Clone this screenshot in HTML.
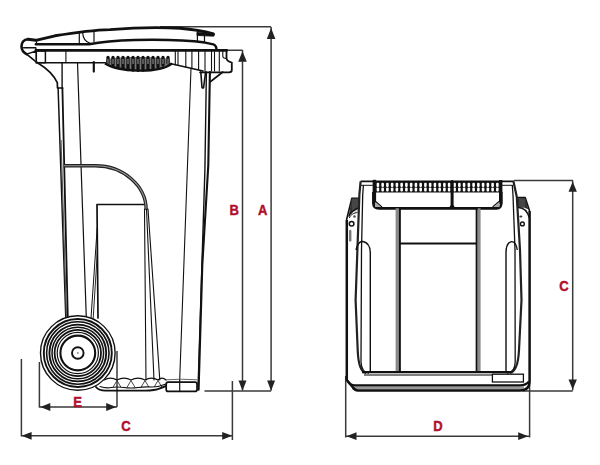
<!DOCTYPE html>
<html><head><meta charset="utf-8"><style>
html,body{margin:0;padding:0;background:#fff;width:600px;height:465px;overflow:hidden}
svg{display:block}
</style></head><body>
<svg width="600" height="465" viewBox="0 0 600 465">
<path d="M160 26.8 H271.1 M271.1 27 V390.5" stroke="#3a3a3a" stroke-width="1.5" fill="none"/>
<polygon points="271.1,28.0 266.8,39.0 275.4,39.0" fill="#222"/>
<polygon points="271.1,390.8 267.1,380.5 275.1,380.5" fill="#222"/>
<path d="M226 50.3 H242.5 M242.5 50 V390.5" stroke="#3a3a3a" stroke-width="1.5" fill="none"/>
<polygon points="242.5,51.3 238.2,61.8 246.8,61.8" fill="#222"/>
<polygon points="242.5,390.8 238.5,380.5 246.5,380.5" fill="#222"/>
<path d="M204.5 390.9 H271.1" stroke="#3a3a3a" stroke-width="1.5" fill="none"/>
<path d="M21.4 359 V435.8 H232 M232.4 381 V440" stroke="#3a3a3a" stroke-width="1.5" fill="none"/>
<polygon points="21.6,435.8 31.6,431.9 31.6,439.7" fill="#222"/>
<polygon points="232.2,435.8 222.2,431.9 222.2,439.7" fill="#222"/>
<path d="M39.4 362 V407 H117 M117 351 V407" stroke="#3a3a3a" stroke-width="1.5" fill="none"/>
<polygon points="40.3,407.0 50.3,403.1 50.3,410.9" fill="#222"/>
<polygon points="116.2,407.0 106.2,403.1 106.2,410.9" fill="#222"/>
<path d="M514 180.5 H573 M572.7 180.5 V390.3 M522.4 391 H572.7" stroke="#3a3a3a" stroke-width="1.5" fill="none"/>
<polygon points="572.7,181.7 568.5,191.7 576.9,191.7" fill="#222"/>
<polygon points="572.7,389.5 568.5,379.5 576.9,379.5" fill="#222"/>
<path d="M345.7 376 V437.5 M529.6 385 V437.5 M345.7 436.2 H529" stroke="#3a3a3a" stroke-width="1.5" fill="none"/>
<polygon points="346.5,436.2 356.5,432.3 356.5,440.1" fill="#222"/>
<polygon points="528.2,436.2 518.2,432.3 518.2,440.1" fill="#222"/>
<text transform="translate(262.6 215.2) scale(0.88 1.02)" font-family="Liberation Sans, sans-serif" font-weight="bold" font-size="14.8" fill="#b0102c" stroke="#b0102c" stroke-width="0.45" text-anchor="middle">A</text>
<text transform="translate(234.1 215.4) scale(0.88 1.02)" font-family="Liberation Sans, sans-serif" font-weight="bold" font-size="14.8" fill="#b0102c" stroke="#b0102c" stroke-width="0.45" text-anchor="middle">B</text>
<text transform="translate(126 430.8) scale(0.88 1.02)" font-family="Liberation Sans, sans-serif" font-weight="bold" font-size="14.8" fill="#b0102c" stroke="#b0102c" stroke-width="0.45" text-anchor="middle">C</text>
<text transform="translate(77.6 407.3) scale(0.88 1.02)" font-family="Liberation Sans, sans-serif" font-weight="bold" font-size="14.8" fill="#b0102c" stroke="#b0102c" stroke-width="0.45" text-anchor="middle">E</text>
<text transform="translate(437.9 431.2) scale(0.88 1.02)" font-family="Liberation Sans, sans-serif" font-weight="bold" font-size="14.8" fill="#b0102c" stroke="#b0102c" stroke-width="0.45" text-anchor="middle">D</text>
<text transform="translate(564 291.2) scale(0.88 1.02)" font-family="Liberation Sans, sans-serif" font-weight="bold" font-size="14.8" fill="#b0102c" stroke="#b0102c" stroke-width="0.45" text-anchor="middle">C</text>
<path d="M28 39.2 L35.8 40.3 L55 35.8 C75 32.5 95 30 110 29.6 C130 28 160 27.2 180 28.3 C195 29.5 205 31.5 213.5 33.8" stroke="#111" fill="none" stroke-linejoin="round" stroke-linecap="round" stroke-width="2.9"/>
<path d="M197 32.5 L213 33.2 L214.5 34.5 L213.8 36.2 L197 35.5 Z" fill="#111" stroke="#111" stroke-width="0.8"/>
<path d="M28 39.2 C23.5 39.5 21.5 43 21.5 46.5 C21.6 50.5 23.5 52.5 26.6 54.1" stroke="#111" fill="none" stroke-linejoin="round" stroke-linecap="round" stroke-width="2.6"/>
<path d="M23.6 47.8 H35.8 L36.3 50.9 M26.6 54.1 L36.3 51 V59" stroke="#111" fill="none" stroke-linejoin="round" stroke-linecap="round" stroke-width="1.4"/>
<path d="M35.8 44.3 H89 C100 42 115 40.5 135 40 C165 39.4 190 40.5 205 42.6 L213.4 44.4 Q216.5 45.5 216.5 50" stroke="#111" fill="none" stroke-linejoin="round" stroke-linecap="round" stroke-width="2.5"/>
<path d="M36.5 39.8 V44.3 M79.3 33 V44 M94 31.5 V41.5 M197.4 30.5 V41 M204.5 31.5 V42.5" stroke="#111" fill="none" stroke-linejoin="round" stroke-linecap="round" stroke-width="1.2"/>
<path d="M82.7 33 C83 38 86 42 90 43.3" stroke="#111" fill="none" stroke-linejoin="round" stroke-linecap="round" stroke-width="1.2"/>
<path d="M35.8 50.4 H226.8" stroke="#111" fill="none" stroke-linejoin="round" stroke-linecap="round" stroke-width="2.6"/>
<path d="M226.5 50.6 V58 Q226.5 61.2 231.8 62.5 V70 Q231.8 72.3 229 72.3 H200" stroke="#111" fill="none" stroke-linejoin="round" stroke-linecap="round" stroke-width="1.8"/>
<path d="M222.8 51 V56 Q222.8 58.5 226.5 58.5" stroke="#111" fill="none" stroke-linejoin="round" stroke-linecap="round" stroke-width="1.1"/>
<path d="M36.3 62.7 H106 M170 63.5 L203 71" stroke="#111" fill="none" stroke-linejoin="round" stroke-linecap="round" stroke-width="1.6"/>
<rect x="36.3" y="50.9" width="9.1" height="11.8" fill="none" stroke="#111" stroke-width="1.5"/>
<path d="M65.9 51 V62.5" stroke="#111" fill="none" stroke-linejoin="round" stroke-linecap="round" stroke-width="1.1"/>
<path d="M175.3 51 V64.666" stroke="#111" fill="none" stroke-linejoin="round" stroke-linecap="round" stroke-width="1.1"/>
<path d="M178 51 V65.26" stroke="#111" fill="none" stroke-linejoin="round" stroke-linecap="round" stroke-width="1.1"/>
<path d="M185.8 51 V66.976" stroke="#111" fill="none" stroke-linejoin="round" stroke-linecap="round" stroke-width="1.1"/>
<path d="M191.9 51 V68.318" stroke="#111" fill="none" stroke-linejoin="round" stroke-linecap="round" stroke-width="1.1"/>
<path d="M198.6 51 V69.792" stroke="#111" fill="none" stroke-linejoin="round" stroke-linecap="round" stroke-width="1.1"/>
<path d="M205 51 V71" stroke="#111" fill="none" stroke-linejoin="round" stroke-linecap="round" stroke-width="1.1"/>
<path d="M211.5 51 V71" stroke="#111" fill="none" stroke-linejoin="round" stroke-linecap="round" stroke-width="1.1"/>
<path d="M214.5 51 V71" stroke="#111" fill="none" stroke-linejoin="round" stroke-linecap="round" stroke-width="1.1"/>
<path d="M219.3 51 V71" stroke="#111" fill="none" stroke-linejoin="round" stroke-linecap="round" stroke-width="1.1"/>
<path d="M106 60 C106 56 170 56 170 60 L170 63 C158 74 118 72 106 64 Z" fill="#777" stroke="none"/>
<rect x="106.35" y="55.8" width="3.3" height="8.6" rx="1.65" fill="#111"/>
<rect x="107.55" y="59" width="0.9" height="5" fill="#aaa"/>
<rect x="111.35" y="55.8" width="3.3" height="10.9" rx="1.65" fill="#111"/>
<rect x="112.55" y="59" width="0.9" height="5" fill="#aaa"/>
<rect x="116.35" y="55.8" width="3.3" height="12.8" rx="1.65" fill="#111"/>
<rect x="117.55" y="59" width="0.9" height="5" fill="#aaa"/>
<rect x="121.35" y="55.8" width="3.3" height="14.3" rx="1.65" fill="#111"/>
<rect x="122.55" y="59" width="0.9" height="5" fill="#aaa"/>
<rect x="126.35" y="55.8" width="3.3" height="15.4" rx="1.65" fill="#111"/>
<rect x="127.55" y="59" width="0.9" height="5" fill="#aaa"/>
<rect x="131.35" y="55.8" width="3.3" height="16.0" rx="1.65" fill="#111"/>
<rect x="132.55" y="59" width="0.9" height="5" fill="#aaa"/>
<rect x="136.35" y="55.8" width="3.3" height="16.2" rx="1.65" fill="#111"/>
<rect x="137.55" y="59" width="0.9" height="5" fill="#aaa"/>
<rect x="141.35" y="55.8" width="3.3" height="16.0" rx="1.65" fill="#111"/>
<rect x="142.55" y="59" width="0.9" height="5" fill="#aaa"/>
<rect x="146.35" y="55.8" width="3.3" height="15.4" rx="1.65" fill="#111"/>
<rect x="147.55" y="59" width="0.9" height="5" fill="#aaa"/>
<rect x="151.35" y="55.8" width="3.3" height="14.3" rx="1.65" fill="#111"/>
<rect x="152.55" y="59" width="0.9" height="5" fill="#aaa"/>
<rect x="156.35" y="55.8" width="3.3" height="12.8" rx="1.65" fill="#111"/>
<rect x="157.55" y="59" width="0.9" height="5" fill="#aaa"/>
<rect x="161.35" y="55.8" width="3.3" height="10.9" rx="1.65" fill="#111"/>
<rect x="162.55" y="59" width="0.9" height="5" fill="#aaa"/>
<rect x="166.35" y="55.8" width="3.3" height="8.6" rx="1.65" fill="#111"/>
<rect x="167.55" y="59" width="0.9" height="5" fill="#aaa"/>
<path d="M105 63.5 C118 72 158 74 172 63.5" stroke="#111" stroke-width="2.2" fill="none"/>
<path d="M93.8 62 V71.6" stroke="#111" fill="none" stroke-linejoin="round" stroke-linecap="round" stroke-width="2.2"/>
<path d="M26.6 54.1 L35.2 61.1 L39 63.8 C46 68 53 74 57.3 82.6 L57.5 88 H62.6" stroke="#111" fill="none" stroke-linejoin="round" stroke-linecap="round" stroke-width="1.7"/>
<path d="M62.1 63 V88" stroke="#111" fill="none" stroke-linejoin="round" stroke-linecap="round" stroke-width="1.4"/>
<path d="M58.1 88 L65.8 318" stroke="#111" fill="none" stroke-linejoin="round" stroke-linecap="round" stroke-width="1.5"/>
<path d="M62.4 88 L67.8 318" stroke="#111" fill="none" stroke-linejoin="round" stroke-linecap="round" stroke-width="1.8"/>
<path d="M61 140 L66.5 318" stroke="#555" stroke-width="1.2" fill="none"/>
<path d="M77.5 62.5 L86.3 318" stroke="#111" fill="none" stroke-linejoin="round" stroke-linecap="round" stroke-width="1.2"/>
<path d="M191 68.3 L179.7 380" stroke="#111" fill="none" stroke-linejoin="round" stroke-linecap="round" stroke-width="1.1"/>
<path d="M206.4 72 L204.9 170 L198 389.7" stroke="#111" fill="none" stroke-linejoin="round" stroke-linecap="round" stroke-width="1.4"/>
<path d="M209.9 72 L208.3 165 L202.3 265 L198.6 389.7" stroke="#111" fill="none" stroke-linejoin="round" stroke-linecap="round" stroke-width="2.1"/>
<path d="M200.8 72 L202 87.5 Q202.8 88.6 203.6 87.5 L205.6 72" stroke="#111" fill="none" stroke-linejoin="round" stroke-linecap="round" stroke-width="1.6"/>
<path d="M210 82 L222.8 72" stroke="#111" fill="none" stroke-linejoin="round" stroke-linecap="round" stroke-width="1.6"/>
<path d="M63.5 165.8 H95 A51 44.3 0 0 1 146.2 210" stroke="#222" stroke-width="3.4" fill="none"/>
<path d="M63.5 165.8 H95 A51 44.3 0 0 1 146.2 210" stroke="#999" stroke-width="1.1" fill="none"/>
<path d="M144.5 209 L146 380 M146.5 209 L154 380 M148 209 L159.8 380" stroke="#111" fill="none" stroke-linejoin="round" stroke-linecap="round" stroke-width="1.1"/>
<path d="M143.5 204.5 H97 L98 318" stroke="#111" fill="none" stroke-linejoin="round" stroke-linecap="round" stroke-width="1.7"/>
<path d="M97.2 228 L91 318" stroke="#111" fill="none" stroke-linejoin="round" stroke-linecap="round" stroke-width="1.0"/>
<path d="M97.6 248 L93.2 318" stroke="#111" fill="none" stroke-linejoin="round" stroke-linecap="round" stroke-width="0.9"/>
<path d="M104.0 380 Q110.5 376.2 117.0 380 Q124.0 376.2 131.0 380 Q138.0 376.2 145.0 380 Q151.5 376.2 158.0 380 Q162.0 376.2 166.0 380" stroke="#111" fill="none" stroke-linejoin="round" stroke-linecap="round" stroke-width="1.3"/>
<path d="M166 379.8 Q181 378.6 197 379.8" stroke="#666" stroke-width="1" fill="none"/>
<path d=" M113.2 387 L117.0 380.5 L120.8 387 M127.2 387 L131.0 380.5 L134.8 387 M141.2 387 L145.0 380.5 L148.8 387 M154.2 387 L158.0 380.5 L161.8 387" stroke="#333" fill="none" stroke-width="0.9"/>
<path d="M100 386.5 Q106 388.5 111 387.5 Q117 386.5 124 387.5 Q131 388.5 138 387.5 Q145 386.5 152 387 Q159 387 166 384" stroke="#111" fill="none" stroke-linejoin="round" stroke-linecap="round" stroke-width="1.1"/>
<path d="M96 387 Q99 390.8 106 390.6 H145 Q155 390.4 160 388.3 L166 386" stroke="#111" fill="none" stroke-linejoin="round" stroke-linecap="round" stroke-width="1.9"/>
<rect x="166.2" y="382.2" width="30.8" height="9.2" rx="2" fill="#fff" stroke="#111" stroke-width="1.7"/>
<path d="M179.7 380 V391.4" stroke="#111" fill="none" stroke-linejoin="round" stroke-linecap="round" stroke-width="1.2"/>
<circle cx="77.8" cy="353" r="37.3" fill="#fff" stroke="#111" stroke-width="1.4"/>
<circle cx="77.8" cy="353" r="34" fill="none" stroke="#111" stroke-width="1.9"/>
<circle cx="77.8" cy="353" r="31.2" fill="none" stroke="#111" stroke-width="1.6"/>
<circle cx="77.8" cy="353" r="28.4" fill="none" stroke="#111" stroke-width="1.9"/>
<circle cx="77.8" cy="353" r="25.8" fill="none" stroke="#111" stroke-width="1.5"/>
<circle cx="77.8" cy="353" r="23.2" fill="none" stroke="#111" stroke-width="1.8"/>
<circle cx="77.8" cy="353" r="20.6" fill="none" stroke="#111" stroke-width="1.2"/>
<circle cx="77.8" cy="353" r="17.4" fill="none" stroke="#111" stroke-width="2.1"/>
<circle cx="77.8" cy="353" r="5.8" fill="none" stroke="#111" stroke-width="1.9"/>
<circle cx="77.8" cy="353" r="0.9" fill="#888"/>
<path d="M352 387.9 H524" fill="none" stroke="#999" stroke-width="3"/>
<path d="M346.8 220 V380 L353 387.5 Q355 390.5 358 390.5 H520 Q529.6 390.5 529.6 381 V211" stroke="#111" fill="none" stroke-linejoin="round" stroke-width="2.5"/>
<path d="M347.5 381 Q350 385.3 355 385.3 H520 Q526 385.3 529 381.5" stroke="#111" fill="none" stroke-linejoin="round" stroke-width="2.2"/>
<path d="M346.5 220 L351.8 198.4 H359.4" stroke="#111" fill="none" stroke-linejoin="round" stroke-width="1.6"/>
<path d="M351.6 198.6 L359.8 198 V207.5 C355 209 351 212 348.6 216.5 Z" fill="#333" stroke="none"/>
<path d="M353 199 V212" stroke="#777" stroke-width="0.6"/>
<path d="M355 199 V212" stroke="#777" stroke-width="0.6"/>
<path d="M357 199 V212" stroke="#777" stroke-width="0.6"/>
<path d="M348.6 216.5 C351 212 355 209 359.8 207.5" stroke="#111" fill="none" stroke-linejoin="round" stroke-width="1.4"/>
<path d="M349.3 218 C351 214 354 213 357.5 212.5" stroke="#111" fill="none" stroke-linejoin="round" stroke-width="1.0"/>
<circle cx="351.6" cy="223.8" r="2.3" fill="#fff" stroke="#111" stroke-width="1.5"/>
<circle cx="354.5" cy="216.5" r="1.3" fill="#555"/>
<rect x="349" y="229.8" width="2.4" height="11.8" rx="1.2" fill="#777"/>
<path d="M529.6 211 L525.2 197.6 H517.4" stroke="#111" fill="none" stroke-linejoin="round" stroke-width="1.6"/>
<path d="M517.5 198.2 L525.4 198 L528.5 209.5 C525 207.5 521 207 517.5 207.5 Z" fill="#333" stroke="none"/>
<path d="M520 199 V208" stroke="#777" stroke-width="0.6"/>
<path d="M522 199 V208" stroke="#777" stroke-width="0.6"/>
<path d="M524 199 V208" stroke="#777" stroke-width="0.6"/>
<path d="M517.5 207.5 C523 207 527 210 529.5 218" stroke="#111" fill="none" stroke-linejoin="round" stroke-width="1.4"/>
<circle cx="522.4" cy="223.9" r="1.9" fill="#fff" stroke="#111" stroke-width="1.4"/>
<ellipse cx="520.9" cy="216.4" rx="1.5" ry="1" fill="#333"/>
<path d="M360.6 181.4 H514" stroke="#111" fill="none" stroke-linejoin="round" stroke-width="1.6"/>
<path d="M360.6 185.3 H372.9 M501 185.3 H513.3" stroke="#111" fill="none" stroke-linejoin="round" stroke-width="1.0"/>
<path d="M360.6 181.4 L359.4 194.4 L357.4 250 L355.6 300 L357.7 350 Q358.5 372 366 373" stroke="#222" fill="none" stroke-width="2.2"/>
<path d="M363.4 185.3 L362.7 195 L361.5 250 L361 362 Q361.5 372.5 369 373" stroke="#111" fill="none" stroke-linejoin="round" stroke-width="1.3"/>
<path d="M513.5 181.4 L516.8 197 L520 250 L521.5 300 L519 350 Q518 371 510 373" stroke="#222" fill="none" stroke-width="2.2"/>
<path d="M512.3 185.3 L513 195 L515 250 L515.2 362 Q514.8 372.5 507 373" stroke="#111" fill="none" stroke-linejoin="round" stroke-width="1.3"/>
<path d="M356 250 Q358 241 363 241.5 Q370 243 370.3 252.4 V371.3" stroke="#111" fill="none" stroke-linejoin="round" stroke-width="1.4"/>
<path d="M517.3 250 Q516 241.4 511.5 241.6 Q506 242.7 506 253 V371" stroke="#111" fill="none" stroke-linejoin="round" stroke-width="1.4"/>
<rect x="372.9" y="181.4" width="128.3" height="11.1" fill="#111"/>
<rect x="376.60" y="182.8" width="2.6" height="4.2" rx="1" fill="#fff"/>
<rect x="376.60" y="187.6" width="2.6" height="4.0" rx="1" fill="#fff"/>
<rect x="381.35" y="182.8" width="2.6" height="4.2" rx="1" fill="#fff"/>
<rect x="381.35" y="187.6" width="2.6" height="4.0" rx="1" fill="#fff"/>
<rect x="386.10" y="182.8" width="2.6" height="4.2" rx="1" fill="#fff"/>
<rect x="386.10" y="187.6" width="2.6" height="4.0" rx="1" fill="#fff"/>
<rect x="390.85" y="182.8" width="2.6" height="4.2" rx="1" fill="#fff"/>
<rect x="390.85" y="187.6" width="2.6" height="4.0" rx="1" fill="#fff"/>
<rect x="395.60" y="182.8" width="2.6" height="4.2" rx="1" fill="#fff"/>
<rect x="395.60" y="187.6" width="2.6" height="4.0" rx="1" fill="#fff"/>
<rect x="400.35" y="182.8" width="2.6" height="4.2" rx="1" fill="#fff"/>
<rect x="400.35" y="187.6" width="2.6" height="4.0" rx="1" fill="#fff"/>
<rect x="405.10" y="182.8" width="2.6" height="4.2" rx="1" fill="#fff"/>
<rect x="405.10" y="187.6" width="2.6" height="4.0" rx="1" fill="#fff"/>
<rect x="409.85" y="182.8" width="2.6" height="4.2" rx="1" fill="#fff"/>
<rect x="409.85" y="187.6" width="2.6" height="4.0" rx="1" fill="#fff"/>
<rect x="414.60" y="182.8" width="2.6" height="4.2" rx="1" fill="#fff"/>
<rect x="414.60" y="187.6" width="2.6" height="4.0" rx="1" fill="#fff"/>
<rect x="419.35" y="182.8" width="2.6" height="4.2" rx="1" fill="#fff"/>
<rect x="419.35" y="187.6" width="2.6" height="4.0" rx="1" fill="#fff"/>
<rect x="424.10" y="182.8" width="2.6" height="4.2" rx="1" fill="#fff"/>
<rect x="424.10" y="187.6" width="2.6" height="4.0" rx="1" fill="#fff"/>
<rect x="428.85" y="182.8" width="2.6" height="4.2" rx="1" fill="#fff"/>
<rect x="428.85" y="187.6" width="2.6" height="4.0" rx="1" fill="#fff"/>
<rect x="433.60" y="182.8" width="2.6" height="4.2" rx="1" fill="#fff"/>
<rect x="433.60" y="187.6" width="2.6" height="4.0" rx="1" fill="#fff"/>
<rect x="438.35" y="182.8" width="2.6" height="4.2" rx="1" fill="#fff"/>
<rect x="438.35" y="187.6" width="2.6" height="4.0" rx="1" fill="#fff"/>
<rect x="443.10" y="182.8" width="2.6" height="4.2" rx="1" fill="#fff"/>
<rect x="443.10" y="187.6" width="2.6" height="4.0" rx="1" fill="#fff"/>
<rect x="447.85" y="182.8" width="2.6" height="4.2" rx="1" fill="#fff"/>
<rect x="447.85" y="187.6" width="2.6" height="4.0" rx="1" fill="#fff"/>
<rect x="453.30" y="182.8" width="2.6" height="4.2" rx="1" fill="#fff"/>
<rect x="453.30" y="187.6" width="2.6" height="4.0" rx="1" fill="#fff"/>
<rect x="458.05" y="182.8" width="2.6" height="4.2" rx="1" fill="#fff"/>
<rect x="458.05" y="187.6" width="2.6" height="4.0" rx="1" fill="#fff"/>
<rect x="462.80" y="182.8" width="2.6" height="4.2" rx="1" fill="#fff"/>
<rect x="462.80" y="187.6" width="2.6" height="4.0" rx="1" fill="#fff"/>
<rect x="467.55" y="182.8" width="2.6" height="4.2" rx="1" fill="#fff"/>
<rect x="467.55" y="187.6" width="2.6" height="4.0" rx="1" fill="#fff"/>
<rect x="472.30" y="182.8" width="2.6" height="4.2" rx="1" fill="#fff"/>
<rect x="472.30" y="187.6" width="2.6" height="4.0" rx="1" fill="#fff"/>
<rect x="477.05" y="182.8" width="2.6" height="4.2" rx="1" fill="#fff"/>
<rect x="477.05" y="187.6" width="2.6" height="4.0" rx="1" fill="#fff"/>
<rect x="481.80" y="182.8" width="2.6" height="4.2" rx="1" fill="#fff"/>
<rect x="481.80" y="187.6" width="2.6" height="4.0" rx="1" fill="#fff"/>
<rect x="486.55" y="182.8" width="2.6" height="4.2" rx="1" fill="#fff"/>
<rect x="486.55" y="187.6" width="2.6" height="4.0" rx="1" fill="#fff"/>
<rect x="491.30" y="182.8" width="2.6" height="4.2" rx="1" fill="#fff"/>
<rect x="491.30" y="187.6" width="2.6" height="4.0" rx="1" fill="#fff"/>
<rect x="496.05" y="182.8" width="2.6" height="4.2" rx="1" fill="#fff"/>
<rect x="496.05" y="187.6" width="2.6" height="4.0" rx="1" fill="#fff"/>
<rect x="372.7" y="179.8" width="3.4" height="24" fill="#111"/>
<rect x="499" y="180" width="3.4" height="24" fill="#111"/>
<path d="M450.6 181 Q452.1 178.8 453.6 181 V205 Q454 207 456 207.7 H448 Q450.2 207 450.6 205 Z" fill="#111"/>
<path d="M373.4 192 V203 Q373.4 208.3 379 208.3 H496.5 Q501.2 208.3 501.2 203 V192" stroke="#111" fill="none" stroke-linejoin="round" stroke-width="2.7"/>
<path d="M375 201 L382 207 M499.6 201 L492.6 207" stroke="#111" fill="none" stroke-linejoin="round" stroke-width="1.1"/>
<path d="M375 202 L381 207 H375 Z M499.6 202 L493.6 207 H499.6 Z" fill="#aaa"/>
<rect x="395.6" y="208.3" width="3.4" height="164" fill="#8a8a8a"/>
<rect x="477.6" y="208.3" width="3" height="164" fill="#8a8a8a"/>
<path d="M399.9 208.3 V372 M476.6 208.3 V372" stroke="#111" fill="none" stroke-linejoin="round" stroke-width="1.9"/>
<path d="M399.9 243.5 H476.6" stroke="#111" fill="none" stroke-linejoin="round" stroke-width="2"/>
<path d="M362 372.2 H511" stroke="#111" fill="none" stroke-linejoin="round" stroke-width="2.2"/>
<path d="M364 375 H509" stroke="#555" fill="none" stroke-width="1.3"/>
<rect x="492.4" y="374.2" width="31" height="7.8" fill="#fff" stroke="#111" stroke-width="1.3"/>
</svg>
</body></html>
